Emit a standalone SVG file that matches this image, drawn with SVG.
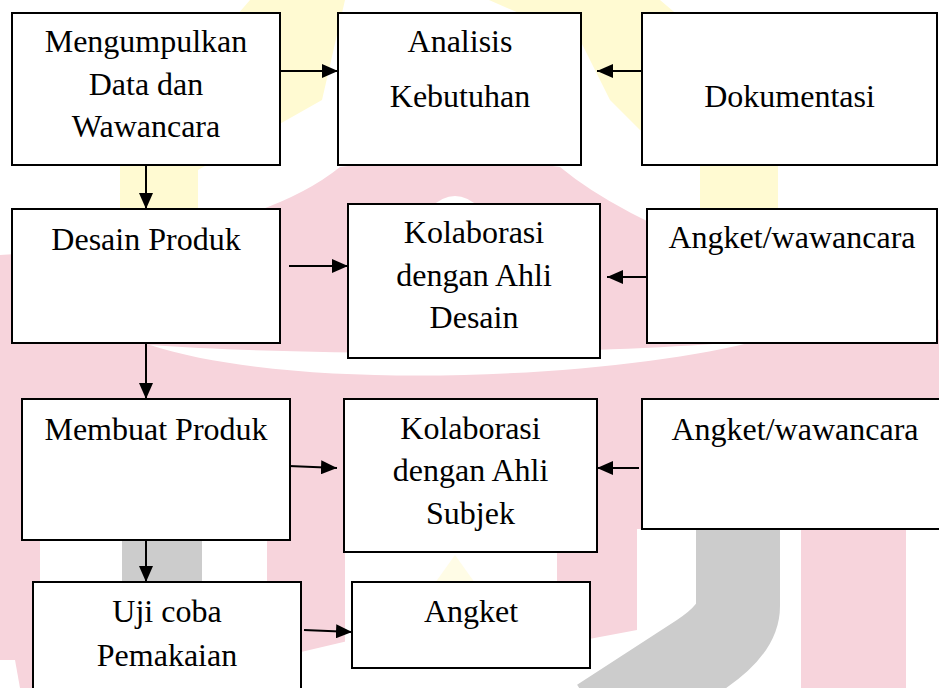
<svg xmlns="http://www.w3.org/2000/svg" width="939" height="688" viewBox="0 0 939 688">
<defs>
<style>
.box{fill:#ffffff;stroke:#000000;stroke-width:2}
.lbl{font-family:"Liberation Serif","Times New Roman",serif;font-size:32px;fill:#000000;text-anchor:middle}
.con{stroke:#000000;stroke-width:2;fill:none;marker-end:url(#ah)}
.pk{fill:#f7d4dc}
.yl{fill:#fffad2}
.gy{fill:#cccccc}
.wt{fill:#ffffff}
</style>
<marker id="ah" markerWidth="16" markerHeight="14" refX="16" refY="7" orient="auto" markerUnits="userSpaceOnUse">
<path d="M0,0 L16,7 L0,14 Z" fill="#000000"/>
</marker>
</defs>
<rect x="0" y="0" width="939" height="688" fill="#ffffff"/>
<g id="watermark">
<polygon class="yl" points="120,215 120,150 250,0 345,0 322,100 198,170 198,215"/>
<polygon class="yl" points="489,0 580,40 610,100 640,130 700,160 700,215 778,215 778,100 660,0"/>
<path class="pk" d="M0,688 L0,255 Q250,240 340,167 Q455,150 560,167 Q660,250 939,320 L939,688 Z"/>
<path class="wt" d="M430,208 Q455,184 480,208 Z"/>
<path class="wt" d="M150,345 C300,356 600,356 760,340 C620,378 300,394 150,345 Z"/>
<rect class="wt" x="40" y="541" width="227" height="147"/>
<rect class="wt" x="345" y="553" width="212" height="135"/>
<polygon class="wt" points="301,652 352,640 352,688 301,688"/>
<polygon class="wt" points="557,645 637,630 637,529 801,529 801,688 557,688"/>
<rect class="wt" x="906" y="529" width="33" height="159"/>
<polygon class="wt" points="0,660 15,660 20,688 0,688"/>
<polygon fill="#fffce6" points="435,583 455,555 475,583"/>
<rect class="gy" x="122" y="541" width="80" height="147"/>
<path d="M738,525 L738,606 Q738,630 700,655 L600,720" stroke="#cccccc" stroke-width="84" fill="none"/>
</g>
<g id="connectors">
<line class="con" x1="280" y1="71" x2="338" y2="71"/>
<line class="con" x1="642" y1="71" x2="597" y2="71"/>
<line class="con" x1="146" y1="165" x2="146" y2="209"/>
<line class="con" x1="289" y1="266" x2="348" y2="266"/>
<line class="con" x1="654" y1="277" x2="607" y2="277"/>
<line class="con" x1="146" y1="343" x2="146" y2="399"/>
<line class="con" x1="289" y1="466" x2="337" y2="468"/>
<line class="con" x1="639" y1="468" x2="597" y2="468"/>
<line class="con" x1="146" y1="528" x2="146" y2="582"/>
<line class="con" x1="304" y1="630" x2="352" y2="632"/>
</g>
<g id="n-mengumpulkan">
<rect class="box" x="12" y="13" width="268" height="152"/>
<text class="lbl" x="146" y="52">Mengumpulkan</text>
<text class="lbl" x="146" y="95">Data dan</text>
<text class="lbl" x="146" y="137">Wawancara</text>
</g>
<g id="n-analisis">
<rect class="box" x="338" y="13" width="243" height="152"/>
<text class="lbl" x="460" y="52">Analisis</text>
<text class="lbl" x="460" y="107">Kebutuhan</text>
</g>
<g id="n-dokumentasi">
<rect class="box" x="642" y="13" width="295" height="152"/>
<text class="lbl" x="789.5" y="107">Dokumentasi</text>
</g>
<g id="n-desain">
<rect class="box" x="12" y="209" width="268" height="134"/>
<text class="lbl" x="146" y="250">Desain Produk</text>
</g>
<g id="n-kolab-desain">
<rect class="box" x="348" y="204" width="252" height="154"/>
<text class="lbl" x="474" y="243">Kolaborasi</text>
<text class="lbl" x="474" y="286">dengan Ahli</text>
<text class="lbl" x="474" y="328">Desain</text>
</g>
<g id="n-angket1">
<rect class="box" x="647" y="209" width="290" height="134"/>
<text class="lbl" x="792" y="248">Angket/wawancara</text>
</g>
<g id="n-membuat">
<rect class="box" x="22" y="399" width="268" height="141"/>
<text class="lbl" x="156" y="440">Membuat Produk</text>
</g>
<g id="n-kolab-subjek">
<rect class="box" x="344" y="399" width="253" height="153"/>
<text class="lbl" x="470.5" y="439">Kolaborasi</text>
<text class="lbl" x="470.5" y="481">dengan Ahli</text>
<text class="lbl" x="470.5" y="524">Subjek</text>
</g>
<g id="n-angket2">
<rect class="box" x="642" y="399" width="306" height="130"/>
<text class="lbl" x="795" y="440">Angket/wawancara</text>
</g>
<g id="n-ujicoba">
<rect class="box" x="33" y="582" width="268" height="120"/>
<text class="lbl" x="167" y="622">Uji coba</text>
<text class="lbl" x="167" y="666">Pemakaian</text>
</g>
<g id="n-angket">
<rect class="box" x="352" y="582" width="238" height="86"/>
<text class="lbl" x="471" y="622">Angket</text>
</g>
</svg>
